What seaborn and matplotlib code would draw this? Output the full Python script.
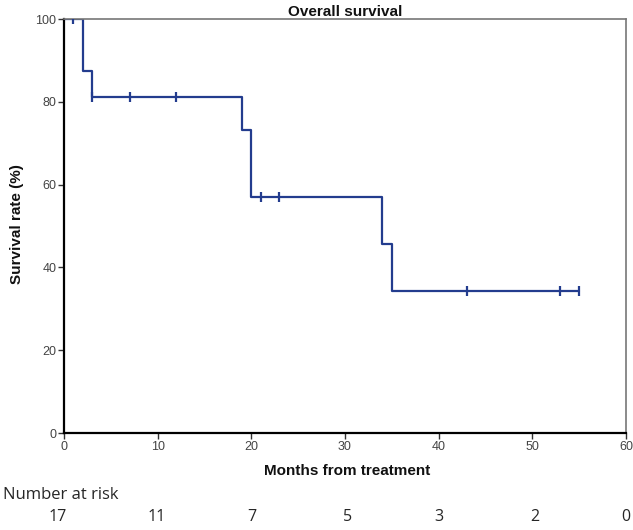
import matplotlib
matplotlib.use("Agg")
import matplotlib.pyplot as plt
import seaborn as sns
import pandas as pd

# Kaplan-Meier step data (months, survival %)
step_times = [0, 2, 3, 19, 20, 34, 35, 55]
step_surv = [100, 87.5, 81.25, 73.1, 57.1, 45.7, 34.3, 34.3]
# Censored observations
cens_times = [1, 3, 7, 12, 21, 23, 43, 53, 55]
cens_surv = [100, 81.25, 81.25, 81.25, 57.1, 57.1, 34.3, 34.3, 34.3]
# Number at risk table
risk_counts = ["17", "11", "7", "5", "3", "2", "0"]
x_ticks = [0, 10, 20, 30, 40, 50, 60]
y_ticks = [0, 20, 40, 60, 80, 100]

sns.set_theme(style="white")
plt.rcParams['font.family'] = ['Liberation Sans', 'DejaVu Sans']

fig = plt.figure(figsize=(6.33, 5.30), dpi=100)
ax = fig.add_axes([0.101, 0.183, 0.888, 0.781])

color = "#233C8E"
steps = pd.DataFrame({"t": step_times, "s": step_surv})
cens = pd.DataFrame({"t": cens_times, "s": cens_surv})
sns.lineplot(data=steps, x="t", y="s", drawstyle="steps-post", color=color,
             linewidth=1.6, ax=ax)
sns.scatterplot(data=cens, x="t", y="s", marker="|", s=45, color=color,
                linewidth=1.6, ax=ax, zorder=3)

ax.set_xlim(0, 60)
ax.set_ylim(0, 100)
ax.set_xticks(x_ticks)
ax.set_yticks(y_ticks)
ax.tick_params(axis="both", which="both", direction="out", length=4, width=1,
               labelsize=9, colors="#333333", pad=1.5,
               bottom=True, left=True)
for lab in ax.get_xticklabels() + ax.get_yticklabels():
    lab.set_color("#444444")

ax.spines["left"].set_color("black")
ax.spines["left"].set_linewidth(1.6)
ax.spines["bottom"].set_color("black")
ax.spines["bottom"].set_linewidth(1.6)
ax.spines["top"].set_color("#777777")
ax.spines["top"].set_linewidth(1.2)
ax.spines["right"].set_color("#777777")
ax.spines["right"].set_linewidth(1.2)

ax.set_xlabel("Months from treatment", fontsize=11, fontweight="bold",
              color="#111111")
ax.set_ylabel("Survival rate (%)", fontsize=11, fontweight="bold",
              color="#111111")
ax.xaxis.set_label_coords(0.503, -0.075)
ax.yaxis.set_label_coords(-0.071, 0.505)
ax.set_title("Overall survival", fontsize=11, fontweight="bold", pad=2,
             color="#111111")

fig.text(3 / 633, 1 - 495 / 530, "Number at risk", fontsize=12, ha="left",
         va="center", family=["Open Sans", "DejaVu Sans"])
risk_px = [58, 157, 252, 348, 439, 535, 626]
for px, c in zip(risk_px, risk_counts):
    fig.text(px / 633, 1 - 517 / 530, c, fontsize=11.5, ha="center",
             va="center", family=["Open Sans", "DejaVu Sans"])

fig.savefig("out.png", dpi=100, facecolor="white")
